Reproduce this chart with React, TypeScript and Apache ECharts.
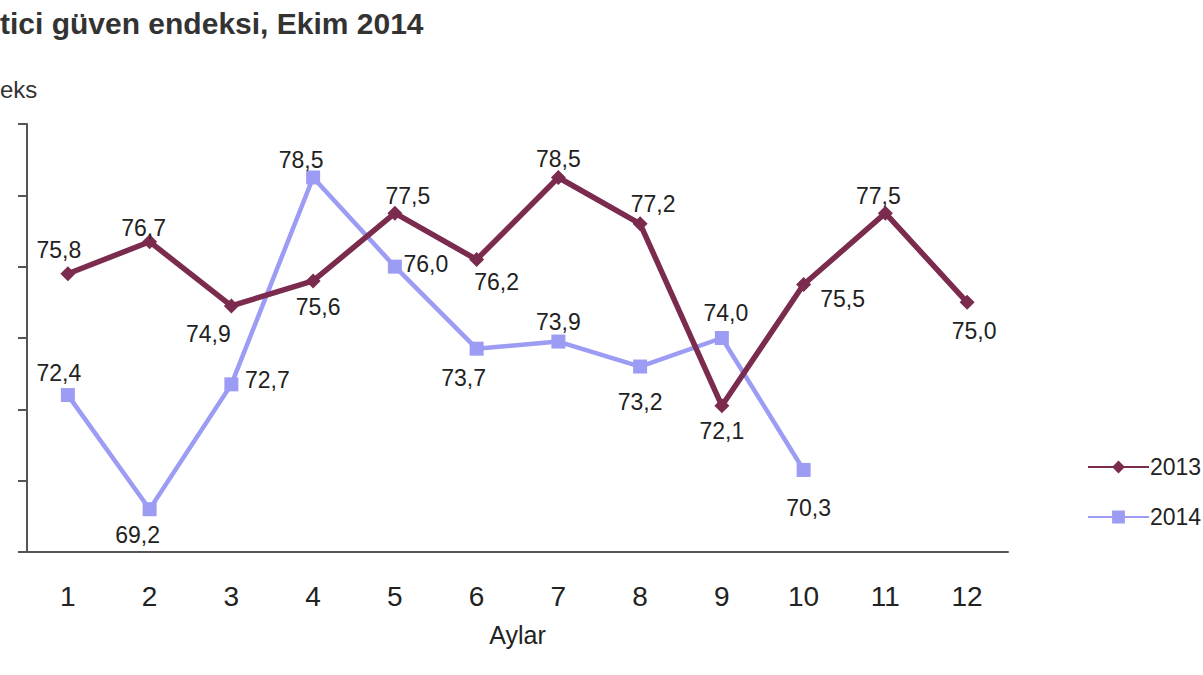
import React, { useEffect, useRef } from "react";
import * as echarts from "echarts";

const months = ["1", "2", "3", "4", "5", "6", "7", "8", "9", "10", "11", "12"];
const values2013 = [75.8, 76.7, 74.9, 75.6, 77.5, 76.2, 78.5, 77.2, 72.1, 75.5, 77.5, 75.0];
const values2014 = [72.4, 69.2, 72.7, 78.5, 76.0, 73.7, 73.9, 73.2, 74.0, 70.3];
// label centre offset from its marker, per point: [dx, dy]
const labelOffset2013: [number, number][] = [
  [-9, -24], [-6, -14], [-23, 28], [5, 26], [13, -17], [20, 22],
  [0, -19], [13, -20], [0, 25], [39, 14], [-7, -17], [7, 29],
];
const labelOffset2014: [number, number][] = [
  [-9, -22], [-12, 26], [36, -4], [-12, -18], [31, -3], [-13, 29],
  [0, -20], [0, 35], [4, -25], [5, 38],
];

const C2013 = "#7b2b4d";
const C2014 = "#9c9cf4";
const FONT = "'Liberation Sans', Arial, sans-serif";

function mk(vals: number[], off: [number, number][]) {
  return vals.map((v, i) => ({
    value: v,
    label: { position: "inside", offset: off[i] },
  }));
}

export default function App() {
  const ref = useRef<HTMLDivElement>(null);
  useEffect(() => {
    document.body.style.margin = "0";
    const chart = echarts.init(ref.current!, null, { renderer: "svg" });
    const labelCommon = {
      show: true,
      fontFamily: FONT,
      fontSize: 23,
      color: "#222",
      align: "center",
      verticalAlign: "middle",
      formatter: (p: any) => p.value.toFixed(1).replace(".", ","),
    };
    chart.setOption({
      animation: false,
      backgroundColor: "#ffffff",
      textStyle: { fontFamily: FONT },
      grid: { left: 27, right: 195, top: 124, bottom: 123 },
      graphic: [
        {
          type: "text",
          x: 0,
          y: 23,
          style: {
            text: "tici güven endeksi, Ekim 2014",
            font: `bold 30px ${FONT}`,
            fill: "#333",
            textVerticalAlign: "middle",
          },
        },
        {
          type: "text",
          x: 0,
          y: 89,
          style: {
            text: "eks",
            font: `24px ${FONT}`,
            fill: "#333",
            textVerticalAlign: "middle",
          },
        },
      ],
      legend: {
        orient: "vertical",
        left: 1082,
        top: 450,
        itemWidth: 61,
        itemHeight: 16,
        itemGap: 26,
        textStyle: { fontFamily: FONT, fontSize: 23, lineHeight: 24, color: "#222", padding: [0, 0, 0, -4] },
        data: ["2013", "2014"],
      },
      xAxis: {
        type: "category",
        data: months,
        boundaryGap: true,
        axisLine: { lineStyle: { color: "#555", width: 2 } },
        axisTick: { show: false },
        axisLabel: { fontFamily: FONT, fontSize: 28, color: "#222", margin: 30 },
        name: "Aylar",
        nameLocation: "middle",
        nameGap: 70,
        nameTextStyle: { fontFamily: FONT, fontSize: 25, color: "#222" },
      },
      yAxis: {
        type: "value",
        min: 68,
        max: 80,
        interval: 2,
        axisLine: { show: true, lineStyle: { color: "#555", width: 2 } },
        axisTick: { show: true, length: 9, lineStyle: { color: "#555", width: 2 } },
        axisLabel: { show: false },
        splitLine: { show: false },
      },
      series: [
        {
          name: "2013",
          type: "line",
          data: mk(values2013, labelOffset2013),
          symbol: "diamond",
          symbolSize: 15,
          lineStyle: { color: C2013, width: 5.5 },
          itemStyle: { color: C2013 },
          label: labelCommon,
          z: 3,
        },
        {
          name: "2014",
          type: "line",
          data: mk(values2014, labelOffset2014),
          symbol: "rect",
          symbolSize: 14,
          lineStyle: { color: C2014, width: 4.5 },
          itemStyle: { color: C2014 },
          label: labelCommon,
          z: 2,
        },
      ],
    });
    return () => chart.dispose();
  }, []);
  return (
    <div
      ref={ref}
      style={{ position: "absolute", left: 0, top: 0, width: 1203, height: 675 }}
    />
  );
}
